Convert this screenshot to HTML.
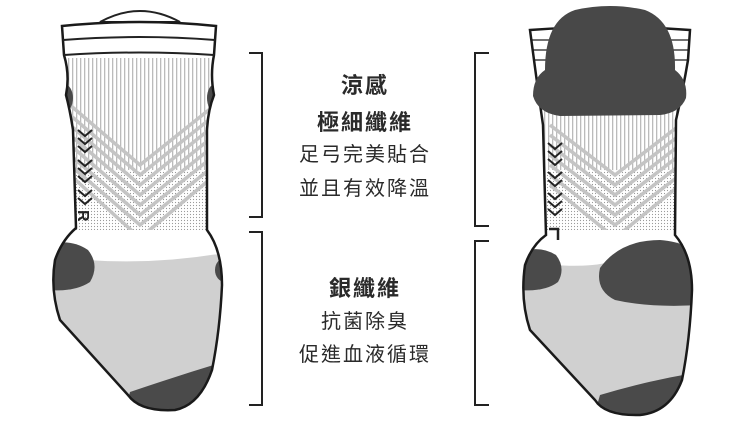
<!DOCTYPE html>
<html><head><meta charset="utf-8"><style>
html,body{margin:0;padding:0;background:#fff;width:750px;height:430px;overflow:hidden}
svg{display:block}
.t{font-family:"Liberation Sans","Noto Sans CJK TC",sans-serif;fill:#2a2a2a;text-anchor:middle;letter-spacing:2px}
</style></head><body>
<svg width="750" height="430" viewBox="0 0 750 430" xmlns="http://www.w3.org/2000/svg">
<defs>
<pattern id="dots" width="3" height="3" patternUnits="userSpaceOnUse"><rect width="3" height="3" fill="#fff"/><circle cx="1.5" cy="1.5" r="0.6" fill="#999"/></pattern>
<pattern id="vl" width="4" height="4" patternUnits="userSpaceOnUse"><rect width="4" height="4" fill="#fff"/><rect x="0" width="1.3" height="4" fill="#bbb"/></pattern>
<clipPath id="cl"><path d="M62 26 Q140 18 216 26 L214 55 Q210 75 214 95 Q208 110 207 130 L207 230 Q222 250 222 285 Q220 330 212 370 Q200 405 175 410 Q140 412 128 395 L60 320 Q50 290 55 260 Q62 240 76 228 L73 130 Q70 110 66 95 Q70 75 64 55 Z"/></clipPath>
<clipPath id="cr"><path d="M530 30 Q610 24 690 30 L688 60 Q683 90 676 120 L675 235 Q692 255 692 290 Q690 340 682 380 Q670 412 640 415 Q605 416 595 400 L530 330 Q520 300 525 265 Q532 245 546 235 L543 125 Q538 90 534 60 Z"/></clipPath>
</defs>

<!-- LEFT SOCK -->
<path d="M100 22 Q140 0 180 22 Z" fill="#fff" stroke="#222" stroke-width="2"/>
<g clip-path="url(#cl)">
<rect x="40" y="0" width="200" height="430" fill="#fff"/>
<rect x="60" y="58" width="160" height="120" fill="url(#vl)"/>
<rect x="60" y="170" width="160" height="70" fill="url(#dots)"/>
<g fill="none" stroke="#c4c4c4" stroke-width="3.5">
<path d="M70 105 L140 165 L215 105"/><path d="M70 115 L140 175 L215 115"/><path d="M70 125 L140 185 L215 125"/><path d="M70 135 L140 195 L215 135"/><path d="M70 145 L140 205 L215 145"/><path d="M70 155 L140 215 L215 155"/><path d="M70 165 L140 225 L215 165"/><path d="M70 175 L140 238 L215 175"/>
</g>
<path d="M40 240 Q140 230 240 245 L240 430 L40 430 Z" fill="#d0d0d0"/>
<path d="M40 255 Q140 270 240 250 L240 230 L40 230 Z" fill="#fff"/>
<path d="M48 245 Q70 238 88 250 Q100 265 90 282 Q75 292 50 290 Z" fill="#4a4a4a"/>
<ellipse cx="225" cy="270" rx="10" ry="12" fill="#4a4a4a"/>
<path d="M120 430 L130 392 Q180 375 230 360 L240 430 Z" fill="#4a4a4a"/>
<ellipse cx="64" cy="98" rx="9" ry="14" fill="#4a4a4a"/>
<ellipse cx="215" cy="98" rx="8" ry="14" fill="#4a4a4a"/>
</g>
<path d="M62 26 Q140 18 216 26 L214 55 Q210 75 214 95 Q208 110 207 130 L207 230 Q222 250 222 285 Q220 330 212 370 Q200 405 175 410 Q140 412 128 395 L60 320 Q50 290 55 260 Q62 240 76 228 L73 130 Q70 110 66 95 Q70 75 64 55 Z" fill="none" stroke="#1a1a1a" stroke-width="2.5"/>
<path d="M63 40 Q140 34 215 40 M64 55 Q140 50 214 55" fill="none" stroke="#222" stroke-width="2"/>
<g fill="none" stroke="#222" stroke-width="2">
<path d="M78 130 l7 6 l7 -6"/><path d="M78 138 l7 6 l7 -6"/><path d="M78 146 l7 6 l7 -6"/><path d="M78 160 l7 6 l7 -6"/><path d="M78 168 l7 6 l7 -6"/><path d="M78 176 l7 6 l7 -6"/><path d="M78 190 l7 6 l7 -6"/><path d="M78 198 l7 6 l7 -6"/>
</g>
<text x="0" y="0" transform="translate(78,210) rotate(90)" font-family="Liberation Sans" font-weight="bold" font-size="16" fill="#222">R</text>

<!-- RIGHT SOCK -->
<g clip-path="url(#cr)">
<rect x="510" y="0" width="200" height="430" fill="#fff"/>
<g stroke="#444" stroke-width="1.5"><line x1="530" y1="40" x2="690" y2="40"/><line x1="530" y1="50" x2="690" y2="50"/><line x1="530" y1="60" x2="690" y2="60"/></g>
<rect x="540" y="110" width="140" height="60" fill="url(#vl)"/>
<rect x="540" y="170" width="140" height="75" fill="url(#dots)"/>
<g fill="none" stroke="#c4c4c4" stroke-width="3.5">
<path d="M550 125 L615 175 L680 125"/><path d="M550 135 L615 185 L680 135"/><path d="M550 145 L615 195 L680 145"/><path d="M550 155 L615 205 L680 155"/><path d="M550 165 L615 215 L680 165"/><path d="M550 175 L615 225 L680 175"/><path d="M550 185 L615 238 L680 185"/>
</g>
<path d="M510 245 Q610 235 710 245 L710 430 L510 430 Z" fill="#d0d0d0"/>
<path d="M510 258 Q590 275 630 255 Q670 240 710 240 L710 230 L510 230 Z" fill="#fff"/>
<path d="M520 252 Q540 245 556 255 Q566 268 558 282 Q545 292 520 290 Z" fill="#4a4a4a"/>
<path d="M600 268 Q620 240 660 240 Q690 242 700 260 L700 305 Q650 308 615 300 Q595 290 600 268 Z" fill="#4a4a4a"/>
<path d="M590 430 L600 395 Q650 380 700 372 L710 430 Z" fill="#4a4a4a"/>
</g>
<path d="M530 30 Q610 24 690 30 L688 60 Q683 90 676 120 L675 235 Q692 255 692 290 Q690 340 682 380 Q670 412 640 415 Q605 416 595 400 L530 330 Q520 300 525 265 Q532 245 546 235 L543 125 Q538 90 534 60 Z" fill="none" stroke="#1a1a1a" stroke-width="2.5"/>
<path d="M545 70 Q545 20 575 10 Q610 2 645 10 Q676 22 675 70 Q688 80 686 98 Q680 113 660 115 L560 116 Q538 113 533 96 Q533 78 545 70 Z" fill="#484848"/>
<g fill="none" stroke="#222" stroke-width="2">
<path d="M548 143 l7 6 l7 -6"/><path d="M548 151 l7 6 l7 -6"/><path d="M548 159 l7 6 l7 -6"/><path d="M548 172 l7 6 l7 -6"/><path d="M548 180 l7 6 l7 -6"/><path d="M548 193 l7 6 l7 -6"/><path d="M548 201 l7 6 l7 -6"/><path d="M548 209 l7 6 l7 -6"/>
</g>
<path d="M549 229 L558 229 L558 240" fill="none" stroke="#222" stroke-width="2.5"/>

<!-- BRACKETS -->
<g fill="none" stroke="#222" stroke-width="2">
<path d="M249 53 L262 53 L262 217 L249 217"/>
<path d="M249 232 L262 232 L262 405 L249 405"/>
<path d="M489 53 L475 53 L475 226 L489 226"/>
<path d="M489 241 L475 241 L475 405 L489 405"/>
</g>

<!-- TEXT -->
<text class="t" x="365" y="93" font-size="22" font-weight="bold">涼感</text>
<text class="t" x="365" y="130" font-size="22" font-weight="bold">極細纖維</text>
<text class="t" x="365" y="161" font-size="20">足弓完美貼合</text>
<text class="t" x="365" y="195" font-size="20">並且有效降溫</text>
<text class="t" x="365" y="296" font-size="22" font-weight="bold">銀纖維</text>
<text class="t" x="365" y="328" font-size="20">抗菌除臭</text>
<text class="t" x="365" y="361" font-size="20">促進血液循環</text>
</svg>
</body></html>
